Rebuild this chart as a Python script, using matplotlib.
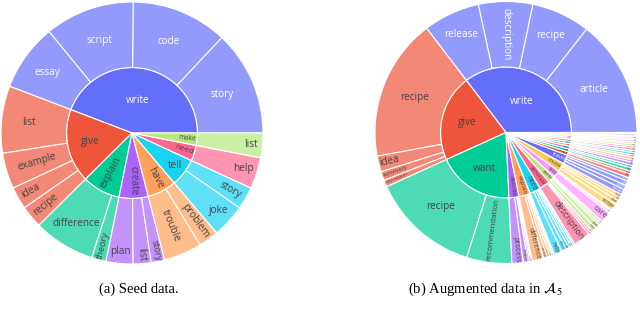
import numpy as np
import matplotlib
matplotlib.use("Agg")
import matplotlib.pyplot as plt
from matplotlib.colors import to_rgb
from matplotlib.font_manager import FontProperties
from matplotlib.textpath import TextPath

plt.rcParams['mathtext.fontset'] = 'stix'

# plotly default colour order
colorway = ["#636efa", "#EF553B", "#00cc96", "#ab63fa", "#FFA15A",
            "#19d3f3", "#FF6692", "#B6E880", "#FF97FF", "#FECB52"]

# (a) seed data: verb -> nouns
seed_verbs = ["write", "give", "explain", "create", "have", "tell", "need", "make"]
seed_nouns = [["story", "code", "script", "essay"],
              ["list", "example", "idea", "recipe"],
              ["difference", "theory"],
              ["plan", "list", "story"],
              ["trouble", "problem"],
              ["joke", "story"],
              ["help"],
              ["list"]]
seed_counts = [[47, 43, 40, 30],
               [30, 16, 10, 10],
               [27.5, 6.5],
               [12, 8, 6],
               [17, 9],
               [15, 10],
               [14],
               [11]]

# (b) augmented data
aug_verbs = ["write", "give", "want", "describe", "explain", "need", "generate",
             "guide", "take", "create", "travel", "make", "find", "provide", "plan",
             "suggest", "list", "show", "share", "prepare", "design"]
aug_nouns = [["article", "recipe", "description", "release"],
             ["recipe", "idea", "summary", "information"],
             ["recipe", "recommendation"],
             ["process", "program", "method", "place", "event"],
             ["difference", "concept", "process", "reason", "way", "meaning"],
             ["help", "advice", "tip", "idea", "plan", "list"],
             ["description", "list", "idea"],
             ["tree", "plan", "tour", "trip"],
             ["care", "look", "step"],
             ["recipe", "plan", "list", "story"],
             ["bread", "guide", "trip", "route"],
             ["list", "cake"],
             ["way", "book"],
             ["list", "tip"],
             ["trip", "meal"],
             ["name", "book"],
             ["item", "step"],
             ["image", "way"],
             ["story", "tip"],
             ["meal", "dish"],
             ["logo", "plan"]]
aug_counts = [[52, 26, 24, 25],
              [63, 7, 4, 3],
              [48, 20],
              [5.0, 2.0, 0.8, 0.7, 0.5],
              [5.0, 1.6, 1.2, 0.9, 0.7, 0.6],
              [3.5, 2.0, 1.5, 1.2, 1.0, 0.8],
              [7.5, 1.0, 1.0],
              [2.0, 2.0, 1.0, 1.0],
              [5.0, 1.0, 0.5],
              [3.0, 2.0, 1.5, 1.5],
              [2.5, 2.0, 2.0, 1.5],
              [1.8, 1.2],
              [1.5, 1.1],
              [1.4, 1.0],
              [1.2, 1.0],
              [1.1, 0.9],
              [1.1, 0.9],
              [1.0, 0.8],
              [0.9, 0.7],
              [0.8, 0.6],
              [0.7, 0.5]]

R_PX = 131.0      # pie radius in pixels
F_PX = 10.0       # full label size in pixels
H_EM = 1.2        # text box height / font size
PAD = 2.4
FP = FontProperties(family="Open Sans")


def fade(c, a=0.7):
    return tuple(a * np.array(to_rgb(c)) + (1 - a))


def text_color(c):
    r, g, b = [255 * v for v in to_rgb(c)]
    return "white" if (r * 299 + g * 587 + b * 114) / 1000 <= 128 else "#444444"


def norm_rot(t):
    return ((t + 90) % 180) - 90


# label fitting the way plotly's sunburst does it (auto orientation)
def label_transform(text, t1, t2, r0, r1):
    w = TextPath((0, 0), text, size=F_PX, prop=FP).get_extents().width + 0.1 * F_PX
    h = H_EM * F_PX
    half = np.radians(min(t2 - t1, 180)) / 2
    ring = 1 - r0 / r1
    tm = (t1 + t2) / 2
    r_ins = min(1 / (1 + 1 / np.sin(half)), ring / 2)
    sh = r_ins * r1 * 2 / np.hypot(w, h)
    cands = [(sh, (1 - r_ins) * r1, 0.0)]
    if sh < 1:
        rp = max(0.0, r1 - 2 * PAD)

        def max_half(a):
            q = a + 1 / (2 * np.tan(half))
            return rp * min(1 / (np.sqrt(q * q + 0.5) + q),
                            ring / (np.sqrt(a * a + ring / 2) + a))

        a = h / w
        s = max_half(a)
        cands.append((2 * s / w, (np.cos(s / rp) - a * s / rp) * r1, norm_rot(tm + 90)))
        a = w / h
        s = max_half(a)
        cands.append((2 * s / h, (np.cos(s / rp) - a * s / rp) * r1, norm_rot(tm)))
    best = cands[0]
    for c in cands[1:]:
        if c[0] > best[0]:
            best = c
    return F_PX * min(1.0, best[0]), best[1], best[2], tm


def put_label(ax, text, t1, t2, r0, r1, color):
    size, rc, rot, tm = label_transform(text, t1, t2, r0, r1)
    if size < 1.2:
        return
    x = rc * np.cos(np.radians(tm)) / R_PX
    y = rc * np.sin(np.radians(tm)) / R_PX
    ax.text(x, y, text, ha="center", va="center", rotation=rot,
            rotation_mode="anchor", fontsize=size * 72 / 100, color=color,
            family="Open Sans")


def sunburst(ax, verbs, nouns, counts):
    base = [colorway[i % 10] for i in range(len(verbs))]
    totals = [sum(c) for c in counts]
    leaf_vals = [v for c in counts for v in c]
    leaf_cols = [fade(base[i]) for i, c in enumerate(counts) for _ in c]
    leaf_labs = [n for ns in nouns for n in ns]
    leaf_par = [i for i, c in enumerate(counts) for _ in c]
    inner, _ = ax.pie(totals, radius=0.5, colors=base, startangle=0,
                      wedgeprops=dict(edgecolor="white", linewidth=0.8))
    outer, _ = ax.pie(leaf_vals, radius=1.0, colors=leaf_cols, startangle=0,
                      wedgeprops=dict(width=0.5, edgecolor="white", linewidth=0.8))
    for w, lab, c in zip(inner, verbs, base):
        put_label(ax, lab, w.theta1, w.theta2, 0.0, R_PX / 2, text_color(c))
    for w, lab, p in zip(outer, leaf_labs, leaf_par):
        put_label(ax, lab, w.theta1, w.theta2, R_PX / 2, R_PX, text_color(base[p]))
    ax.set_xlim(-1, 1)
    ax.set_ylim(-1, 1)
    ax.set_aspect("equal")
    ax.axis("off")


W, H = 640, 310
fig = plt.figure(figsize=(W / 100, H / 100), dpi=100)

ax1 = fig.add_axes([(132 - R_PX) / W, (H - 133 - R_PX) / H, 2 * R_PX / W, 2 * R_PX / H])
sunburst(ax1, seed_verbs, seed_nouns, seed_counts)

ax2 = fig.add_axes([(506 - R_PX) / W, (H - 132.5 - R_PX) / H, 2 * R_PX / W, 2 * R_PX / H])
sunburst(ax2, aug_verbs, aug_nouns, aug_counts)

fig.text(139 / W, 1 - 289 / H, "(a) Seed data.", ha="center", va="center",
         family="Liberation Serif", fontsize=10.5)
fig.text(485 / W, 1 - 289 / H, r"(b) Augmented data in $\mathcal{A}_5$",
         ha="center", va="center", family="Liberation Serif", fontsize=10.5)

fig.savefig("out.png", dpi=100)
